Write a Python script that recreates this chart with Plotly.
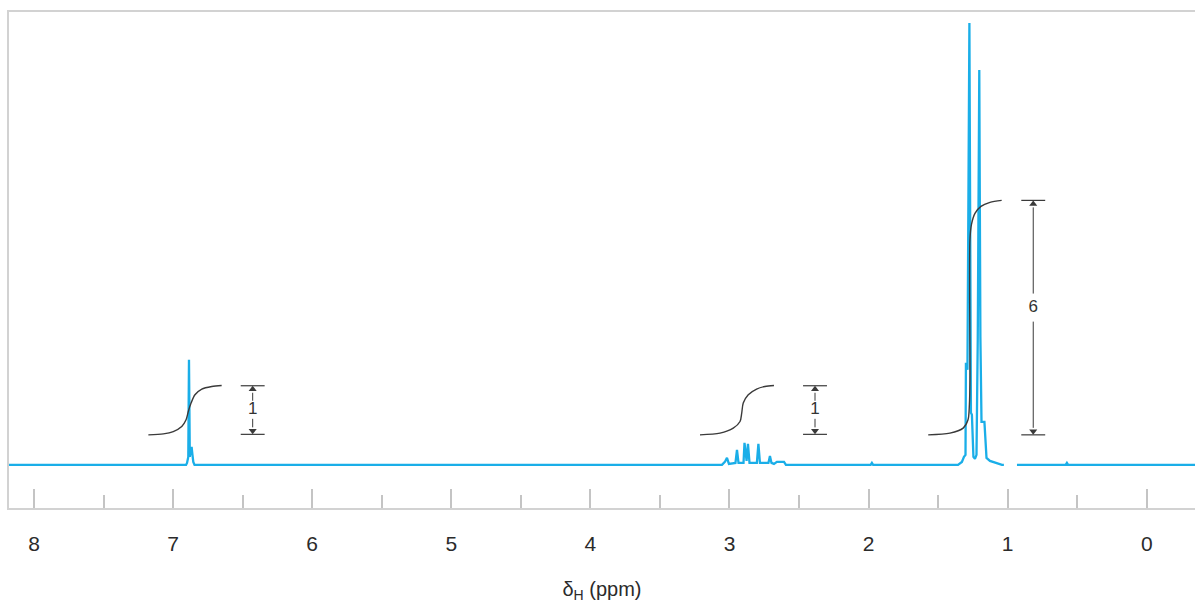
import plotly.graph_objects as go

# ---------------- data ----------------
# spectrum vertices (chemical shift in ppm, intensity in arbitrary units)
spec_ppm = [8.18, 6.907, 6.900, 6.891, 6.886, 6.880, 6.873, 6.867, 6.861, 6.855, 6.846,
            3.054, 3.033, 3.018, 3.004, 2.957, 2.946, 2.935, 2.899, 2.892, 2.877, 2.867, 2.856,
            2.803, 2.792, 2.781, 2.720, 2.709, 2.698, 2.680, 2.659, 2.608, 2.594,
            1.985, 1.976, 1.967,
            1.357, 1.329, 1.314, 1.303, 1.300, 1.289, 1.275, 1.264, 1.257, 1.246, 1.235, 1.224,
            1.215, 1.204, 1.196, 1.188, 1.167, 1.152, 1.127, 1.091, 1.041, 1.027, None,
            0.933, 0.583, 0.574, 0.565, -0.347]
spec_int = [0, 0, 2, 8, 105, 8, 16, 18, 10, 3, 0,
            0, 3, 7, 1, 2, 15, 2, 2, 22, 4, 21, 2,
            2, 21, 2, 2, 9, 2, 1, 3, 3, 0,
            0, 2, 0,
            0, 3, 8, 10, 102, 95, 441, 52, 50, 8, 6, 10,
            125, 394, 128, 43, 43, 7, 4, 2, 0, 0, None,
            0, 0, 2, 0, 0]

# integration curves
integ1_ppm = [7.178, 7.070, 6.999, 6.938, 6.907, 6.891, 6.871, 6.843, 6.794, 6.722, 6.651]
integ1_h = [30, 31, 33.3, 38.3, 45, 53.3, 61.7, 70, 75.7, 78.3, 79.3]
integ2_ppm = [3.212, 3.068, 2.973, 2.924, 2.912, 2.901, 2.865, 2.805, 2.745, 2.680]
integ2_h = [30, 31.7, 36.7, 43.3, 51.7, 61.7, 70, 75.7, 78.3, 79.3]
integ3_ppm = [1.571, 1.415, 1.320, 1.285, 1.275, 1.271, 1.271, 1.260, 1.235, 1.192, 1.127, 1.043]
integ3_h = [30, 31.7, 36.7, 45, 60, 85, 225, 240, 251, 258, 262, 264]

# integration bars
bar_ppm = [6.428, 2.385, 0.816]
bar_low = [30.5, 30.5, 30]
bar_high = [79, 79, 264]
bar_label_h = [55, 55, 157]
bar_labels = ["1", "1", "6"]

# axis
tick_vals = [8, 7, 6, 5, 4, 3, 2, 1, 0]
tick_text = ["8", "7", "6", "5", "4", "3", "2", "1", "0"]
x_range = [8.18, -0.347]
y_range = [-43, 452]

# ---------------- styles ----------------
SPEC_COLOR = "#1AAEE8"
INK = "#3a3a3a"
FRAME = "#d2d2d2"
CAP_HALF = 0.086
HEAD = 3.5  # half arrowhead height in y units (1 unit ~ 1 px)

fig = go.Figure()

fig.add_trace(go.Scatter(x=spec_ppm, y=spec_int, mode="lines",
                         line=dict(color=SPEC_COLOR, width=2.3),
                         connectgaps=False, hoverinfo="skip"))

for px, py in [(integ1_ppm, integ1_h), (integ2_ppm, integ2_h), (integ3_ppm, integ3_h)]:
    fig.add_trace(go.Scatter(x=px, y=py, mode="lines",
                             line=dict(color=INK, width=1.4, shape="spline", smoothing=0.8),
                             hoverinfo="skip"))

# caps and shafts of the integration bars
cap_x, cap_y = [], []
shaft_x, shaft_y = [], []
up_x, up_y, dn_x, dn_y = [], [], [], []
for b, lo, hi, lh, lab in zip(bar_ppm, bar_low, bar_high, bar_label_h, bar_labels):
    g = 9 if lab == "1" else 14
    for v in (lo, hi):
        cap_x += [b + CAP_HALF, b - CAP_HALF, None]
        cap_y += [v, v, None]
    shaft_x += [b, b, None, b, b, None]
    shaft_y += [hi - 2 * HEAD, lh + g, None, lo + 2 * HEAD, lh - g, None]
    up_x.append(b)
    up_y.append(hi - HEAD)
    dn_x.append(b)
    dn_y.append(lo + HEAD)

fig.add_trace(go.Scatter(x=cap_x, y=cap_y, mode="lines",
                         line=dict(color=INK, width=1.2), hoverinfo="skip"))
fig.add_trace(go.Scatter(x=shaft_x, y=shaft_y, mode="lines",
                         line=dict(color=INK, width=1), hoverinfo="skip"))
fig.add_trace(go.Scatter(x=up_x, y=up_y, mode="markers",
                         marker=dict(symbol="triangle-up", size=7, color=INK, line=dict(width=0)),
                         hoverinfo="skip"))
fig.add_trace(go.Scatter(x=dn_x, y=dn_y, mode="markers",
                         marker=dict(symbol="triangle-down", size=7, color=INK, line=dict(width=0)),
                         hoverinfo="skip"))
fig.add_trace(go.Scatter(x=bar_ppm, y=bar_label_h, mode="text", text=bar_labels,
                         textposition="middle center",
                         textfont=dict(family="Liberation Sans, Arial", size=17, color="#333"),
                         hoverinfo="skip"))

fig.update_layout(
    width=1195, height=605,
    margin=dict(l=9, r=0, t=12, b=97),
    paper_bgcolor="white", plot_bgcolor="white",
    showlegend=False,
    xaxis=dict(
        range=x_range, tickmode="array", tickvals=tick_vals, ticktext=tick_text,
        ticks="inside", ticklen=19, tickwidth=1.5, tickcolor="#c4c4c4",
        minor=dict(dtick=0.5, tick0=0, ticks="inside", ticklen=13, tickwidth=1.5, tickcolor="#c4c4c4"),
        showline=True, linecolor=FRAME, linewidth=1.5, mirror=True,
        showgrid=False, zeroline=False,
        tickfont=dict(family="Liberation Sans, Arial", size=21, color="#2b2b2b"),
        ticklabelstandoff=16,
        title=dict(text="δ<sub>H</sub> (ppm)", standoff=28,
                   font=dict(family="Liberation Sans, Arial", size=20, color="#2b2b2b")),
    ),
    yaxis=dict(
        range=y_range, showline=True, linecolor=FRAME, linewidth=1.5,
        showticklabels=False, ticks="", showgrid=False, zeroline=False,
    ),
)

fig.write_html("out.html")
